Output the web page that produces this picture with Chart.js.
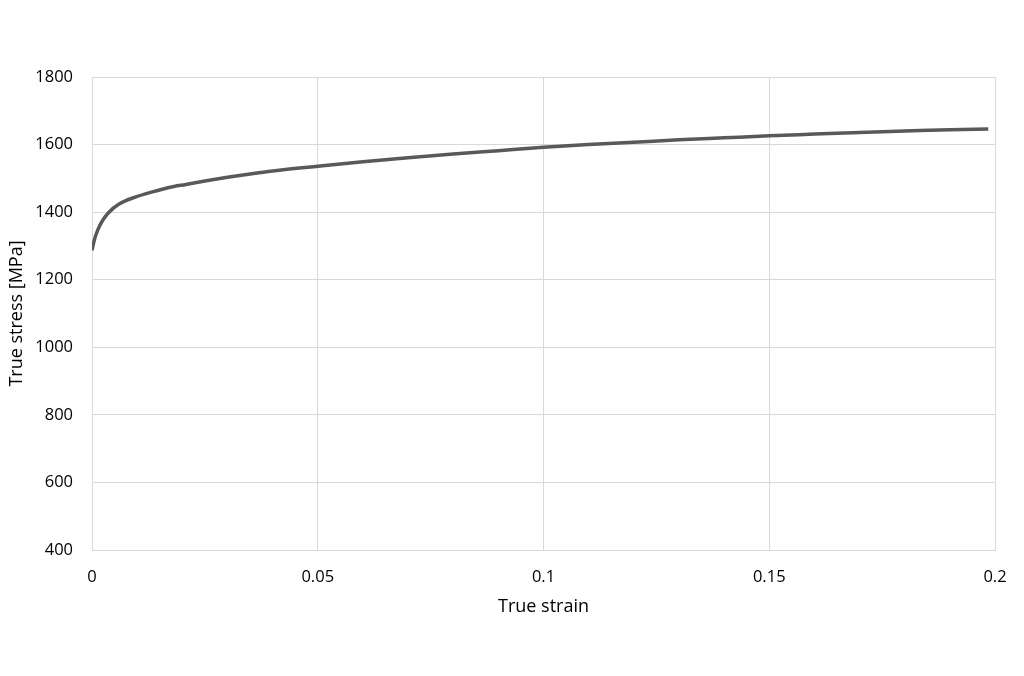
<!DOCTYPE html>
<html>
<head>
<meta charset="utf-8">
<script src="https://cdn.jsdelivr.net/npm/chart.js@4/dist/chart.umd.min.js"></script>
<style>
  html, body { margin: 0; padding: 0; background: #fff; }
  #wrap { width: 1024px; height: 676px; }
</style>
</head>
<body>
<div id="wrap"><canvas id="stressChart"></canvas></div>
<script>
const strain = [0, 0.0005, 0.00126, 0.00237, 0.0037, 0.006, 0.0097, 0.0134, 0.0171, 0.0208,
  0.025, 0.03, 0.035, 0.04, 0.05, 0.06, 0.07, 0.08, 0.09, 0.1,
  0.11, 0.12, 0.13, 0.14, 0.15, 0.16, 0.17, 0.18, 0.19, 0.1985];
const stress = [1287, 1317, 1347, 1376, 1399, 1424, 1445, 1460, 1473, 1482,
  1492, 1503, 1513, 1522, 1536, 1549, 1561, 1572, 1582, 1592,
  1600, 1607, 1614, 1620, 1626, 1631, 1636, 1640, 1644, 1646];

const xTicks = [0, 0.05, 0.1, 0.15, 0.2];
const yTicks = [400, 600, 800, 1000, 1200, 1400, 1600, 1800];

const font = "'Open Sans', 'Liberation Sans', sans-serif";
const ctx = document.getElementById("stressChart");

new Chart(ctx, {
  type: "line",
  data: {
    datasets: [{
      label: "True stress",
      data: strain.map((s, i) => ({ x: s, y: stress[i] })),
      borderColor: "#595959",
      borderWidth: 3.5,
      pointRadius: 0,
      cubicInterpolationMode: "monotone",
      fill: false
    }]
  },
  options: {
    responsive: true,
    maintainAspectRatio: false,
    animation: false,
    layout: { padding: { left: 0, right: 29, top: 77, bottom: 54 } },
    plugins: { legend: { display: false }, tooltip: { enabled: false } },
    scales: {
      x: {
        type: "linear",
        min: xTicks[0],
        max: xTicks[xTicks.length - 1],
        afterBuildTicks: s => { s.ticks = xTicks.map(v => ({ value: v })); },
        afterFit: s => { s.height = 72; },
        grid: { color: "#d9d9d9", drawTicks: false },
        border: { color: "#d9d9d9" },
        ticks: {
          padding: 17,
          color: "#000",
          font: { family: font, size: 16.5 },
          callback: v => String(+v.toFixed(2))
        },
        title: {
          display: true,
          text: "True strain",
          color: "#000",
          font: { family: font, size: 18 }
        }
      },
      y: {
        min: yTicks[0],
        max: yTicks[yTicks.length - 1],
        afterBuildTicks: s => { s.ticks = yTicks.map(v => ({ value: v })); },
        afterFit: s => { s.width = 92; },
        grid: { color: "#d9d9d9", drawTicks: false },
        border: { color: "#d9d9d9" },
        ticks: {
          padding: 19,
          color: "#000",
          font: { family: font, size: 16.5 },
          callback: v => String(v)
        },
        title: {
          display: true,
          text: "True stress [MPa]",
          color: "#000",
          font: { family: font, size: 18 },
          padding: { top: 6, bottom: 0 }
        }
      }
    }
  }
});
</script>
</body>
</html>
